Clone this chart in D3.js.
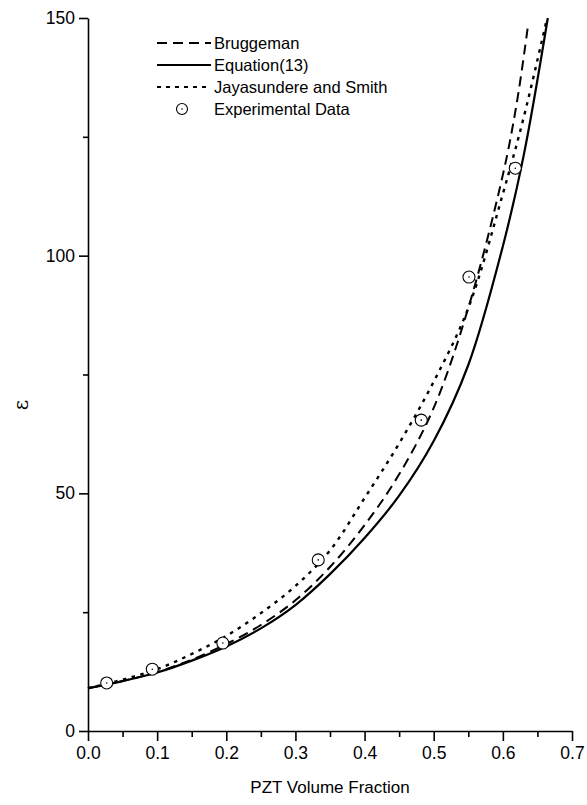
<!DOCTYPE html>
<html>
<head>
<meta charset="utf-8">
<script src="https://cdn.jsdelivr.net/npm/d3@7"></script>
<style>
  body { margin: 0; background: #fff; }
  svg text { font-family: 'Liberation Sans', Arial, sans-serif; fill: #000; }
</style>
</head>
<body>
<svg id="chart" width="587" height="805"></svg>
<script>
// curve values
const eqX = [0, 0.05, 0.1, 0.15, 0.2, 0.25, 0.3, 0.35, 0.4, 0.45, 0.5, 0.55, 0.6, 0.63, 0.665];
const eqY = [9, 10.5, 12.3, 14.8, 17.8, 21.6, 26.5, 33, 40.6, 49.5, 61, 77, 102, 121, 150];

const brugX = [0, 0.05, 0.1, 0.15, 0.2, 0.25, 0.3, 0.35, 0.4, 0.45, 0.5, 0.55, 0.6, 0.62, 0.636];
const brugY = [9, 10.5, 12.4, 15, 18.3, 22.3, 27.5, 34.5, 43.3, 54, 68, 89, 117, 132, 148];

const jayaX = [0, 0.05, 0.1, 0.15, 0.2, 0.25, 0.3, 0.35, 0.4, 0.45, 0.5, 0.55, 0.6, 0.63, 0.664];
const jayaY = [9, 10.8, 13, 16.2, 20, 24.8, 30.5, 38, 49, 60.5, 73.5, 89, 113, 129, 150];

const expX = [0.027, 0.093, 0.195, 0.333, 0.482, 0.551, 0.618];
const expY = [10.1, 13.0, 18.5, 36, 65.4, 95.5, 118.4];

const xTicks = [0, 0.1, 0.2, 0.3, 0.4, 0.5, 0.6, 0.7];
const yTicks = [0, 50, 100, 150];

const legendItems = ['Bruggeman', 'Equation(13)', 'Jayasundere and Smith', 'Experimental Data'];

class Chart {
  constructor(selector) {
    this.svg = d3.select(selector);
    this.margin = { top: 18, right: 15, bottom: 74, left: 88 };
    this.x = d3.scaleLinear().domain([0, 0.7]).range([this.margin.left, 587 - this.margin.right]);
    this.y = d3.scaleLinear().domain([0, 150]).range([805 - this.margin.bottom, this.margin.top]);
  }

  drawAxes() {
    const { svg, x, y } = this;
    const y0 = y(0);
    const x0 = x(0);

    // minor ticks first, majors on top
    svg.append('g')
      .attr('transform', `translate(0,${y0})`)
      .call(d3.axisBottom(x).tickValues(d3.range(0.05, 0.7, 0.1)).tickSize(6).tickFormat(''))
      .call(g => g.select('.domain').remove());
    const xa = svg.append('g')
      .attr('transform', `translate(0,${y0})`)
      .call(d3.axisBottom(x).tickValues(xTicks).tickSize(10).tickSizeOuter(0).tickPadding(6)
        .tickFormat(d3.format('.1f')));
    xa.selectAll('text').attr('font-size', 17.5);

    svg.append('g')
      .attr('transform', `translate(${x0},0)`)
      .call(d3.axisLeft(y).tickValues([25, 75, 125]).tickSize(5).tickFormat(''))
      .call(g => g.select('.domain').remove());
    const ya = svg.append('g')
      .attr('transform', `translate(${x0},0)`)
      .call(d3.axisLeft(y).tickValues(yTicks).tickSize(9).tickSizeOuter(0).tickPadding(4));
    ya.selectAll('text').attr('font-size', 17.5);

    svg.selectAll('.domain, .tick line').attr('stroke', '#000').attr('stroke-width', 1.6);

    svg.append('text')
      .attr('x', (x0 + x(0.7)) / 2)
      .attr('y', 793)
      .attr('text-anchor', 'middle')
      .attr('font-size', 17)
      .text('PZT Volume Fraction');

    svg.append('text')
      .attr('transform', 'translate(28,405) rotate(-90)')
      .attr('text-anchor', 'middle')
      .attr('font-size', 20)
      .style('font-family', "'DejaVu Serif', serif")
      .text('ε');
  }

  drawLine(xs, ys, dash, width) {
    const { svg, x, y } = this;
    const pts = xs.map((v, i) => [v, ys[i]]);
    const line = d3.line().x(d => x(d[0])).y(d => y(d[1])).curve(d3.curveCatmullRom.alpha(0.5));
    svg.append('path')
      .datum(pts)
      .attr('d', line)
      .attr('fill', 'none')
      .attr('stroke', '#000')
      .attr('stroke-width', width)
      .attr('stroke-dasharray', dash);
  }

  drawPoints() {
    const { svg, x, y } = this;
    const pts = expX.map((v, i) => [v, expY[i]]);
    const g = svg.append('g');
    g.selectAll('circle.pt').data(pts).join('circle')
      .attr('cx', d => x(d[0])).attr('cy', d => y(d[1])).attr('r', 6)
      .attr('fill', '#fff').attr('stroke', '#000').attr('stroke-width', 1.1);
    g.selectAll('circle.dot').data(pts).join('circle').attr('class', 'dot')
      .attr('cx', d => x(d[0])).attr('cy', d => y(d[1])).attr('r', 0.8)
      .attr('fill', '#000');
  }

  drawLegend() {
    const { svg } = this;
    const styles = [
      { dash: '10,6', w: 2 },
      { dash: null, w: 2.2 },
      { dash: '4,5', w: 2.2 },
      null,
    ];
    legendItems.forEach((name, i) => {
      const cy = 43 + i * 22;
      const s = styles[i];
      if (s) {
        svg.append('line')
          .attr('x1', 157).attr('x2', 211).attr('y1', cy).attr('y2', cy)
          .attr('stroke', '#000').attr('stroke-width', s.w)
          .attr('stroke-dasharray', s.dash);
      } else {
        svg.append('circle').attr('cx', 182).attr('cy', cy).attr('r', 5.5)
          .attr('fill', '#fff').attr('stroke', '#000').attr('stroke-width', 1.1);
        svg.append('circle').attr('cx', 182).attr('cy', cy).attr('r', 0.8).attr('fill', '#000');
      }
      svg.append('text')
        .attr('x', 214).attr('y', cy)
        .attr('dy', '0.35em')
        .attr('font-size', 16.5)
        .text(name);
    });
  }

  render() {
    this.drawAxes();
    this.drawLine(brugX, brugY, '10,6', 2);
    this.drawLine(eqX, eqY, null, 2.2);
    this.drawLine(jayaX, jayaY, '3.5,5.5', 2.4);
    this.drawPoints();
    this.drawLegend();
  }
}

new Chart('#chart').render();
</script>
</body>
</html>
